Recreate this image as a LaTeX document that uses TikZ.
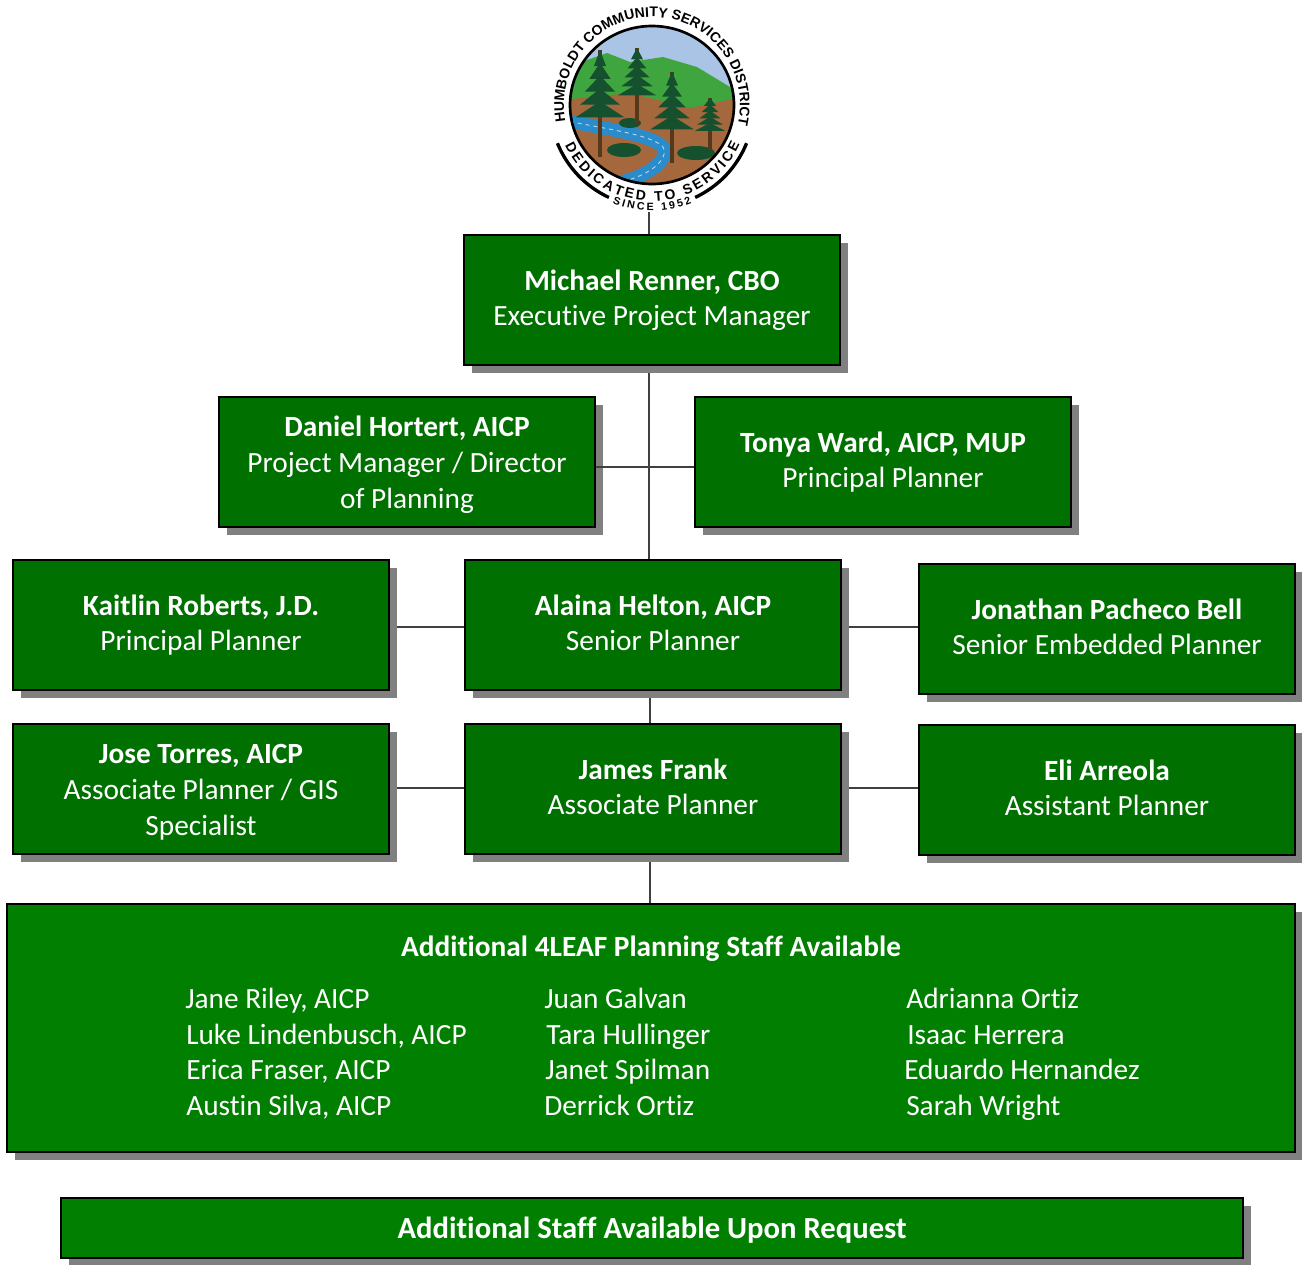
\documentclass[tikz,border=0pt]{standalone}
\usepackage{fontspec}
\setmainfont{Carlito}[Ligatures=NoCommon]
\setsansfont{Liberation Sans}
\usetikzlibrary{backgrounds,shadows,decorations.text}
\definecolor{staffgreen}{HTML}{007000}
\definecolor{poolgreen}{HTML}{007F00}
\definecolor{hillgreen}{HTML}{3FA63F}
\definecolor{soilbrown}{HTML}{A4683C}
\definecolor{firgreen}{HTML}{15502F}
\definecolor{skyblue}{HTML}{A9C4E4}
\definecolor{riverblue}{HTML}{2B8CCB}
\tikzset{
	staffbox/.style={draw=black, line width=1.6pt, fill=staffgreen, text=white, align=center, inner sep=0pt,
		minimum width=282pt, minimum height=97.5pt, font=\fontsize{22}{26.7}\selectfont,
		drop shadow={shadow xshift=6pt, shadow yshift=-6pt, fill=gray, opacity=1},
		text height=38.5pt, text depth=0pt},
	threeline/.style={text height=69pt, text depth=0pt},
	poolbox/.style={staffbox, fill=poolgreen},
	poolname/.style={text=white, anchor=base west, inner sep=0pt, font=\fontsize{22}{26.7}\selectfont},
	link/.style={draw=black!75, line width=1pt},
}
\newcommand{\firtree}[3]{% x, top, bottom
	\draw[line width=2.5pt, draw=black!55!brown] (#1,#2) -- (#1,#3);
	\foreach \f in {0,0.12,0.24,0.36,0.48}{
		\fill[firgreen] (#1,{#2+(#3-#2)*\f}) -- ({#1+6+(#2-#3)*\f*0.36},{#2+(#3-#2)*(\f+0.15)})
			-- ({#1-6-(#2-#3)*\f*0.36},{#2+(#3-#2)*(\f+0.15)}) -- cycle;
	}
}
\begin{document}
\begin{tikzpicture}[x=0.75pt, y=-0.75pt]
	\useasboundingbox (0,0) rectangle (1302,1264);
	% seal
	\begin{scope}[shift={(652,105)}, x=0.75pt, y=0.75pt]
		\begin{scope}
			\clip (0,0) ellipse[x radius=82, y radius=79];
			\fill[skyblue] (-90,-90) rectangle (90,90);
			\fill[hillgreen] (-90,30) -- (-65,45) -- (-45,52) -- (-22,43) -- (11,48) -- (45,38) -- (78,18) -- (95,0) -- (95,-30) -- (-90,-30) -- cycle;
			\fill[soilbrown] (-90,5) -- (-22,12) -- (38,-3) -- (90,8) -- (90,-90) -- (-90,-90) -- cycle;
			\draw[riverblue, line width=10pt] (-90,-15) .. controls (-40,-25) and (0,-30) .. (11,-42) .. controls (18,-55) and (-5,-72) .. (-35,-78);
			\draw[riverblue!35, line width=0.7pt, dashed] (-90,-15) .. controls (-40,-25) and (0,-30) .. (11,-42) .. controls (18,-55) and (-5,-72) .. (-35,-78);
			\fill[firgreen] (-28,-45) ellipse[x radius=17, y radius=7];
			\fill[firgreen] (44,-48) ellipse[x radius=19, y radius=7];
			\fill[firgreen] (-22,-18) ellipse[x radius=11, y radius=5];
			\firtree{-52}{55}{-52}
			\firtree{-15}{57}{-18}
			\firtree{20}{33}{-58}
			\firtree{58}{7}{-45}
		\end{scope}
		\draw[line width=2pt] (0,0) ellipse[x radius=82, y radius=79];
		\draw[line width=2.5pt] (202:102) arc[start angle=202, end angle=245, radius=102];
		\draw[line width=2.5pt] (295:102) arc[start angle=295, end angle=338, radius=102];
		\path[decorate, decoration={text along path, text align={fit to path},
			text={|\sffamily\bfseries\fontsize{10.5}{11}\selectfont|HUMBOLDT COMMUNITY SERVICES DISTRICT}}]
			(191:88) arc[start angle=191, end angle=-11, radius=88];
		\path[decorate, decoration={text along path, text align={fit to path},
			text={|\sffamily\bfseries\fontsize{10.5}{11}\selectfont|DEDICATED TO SERVICE}}]
			(205:96) arc[start angle=205, end angle=336, radius=96];
		\path[decorate, decoration={text along path, text align={fit to path},
			text={|\sffamily\bfseries\fontsize{8}{9}\selectfont|SINCE 1952}}]
			(248:106) arc[start angle=248, end angle=292, radius=106];
	\end{scope}
	% staff
	\node[staffbox] (renner) at (652,300) {\textbf{Michael Renner, CBO}\\Executive Project Manager};
	\node[staffbox, threeline] (hortert) at (407,462) {\textbf{Daniel Hortert, AICP}\\Project Manager / Director\\of Planning};
	\node[staffbox] (ward) at (883,462) {\textbf{Tonya Ward, AICP, MUP}\\Principal Planner};
	\node[staffbox] (roberts) at (201,625) {\textbf{Kaitlin Roberts, J.D.}\\Principal Planner};
	\node[staffbox] (helton) at (653,625) {\textbf{Alaina Helton, AICP}\\Senior Planner};
	\node[staffbox] (bell) at (1107,629) {\textbf{Jonathan Pacheco Bell}\\Senior Embedded Planner};
	\node[staffbox, threeline] (torres) at (201,789) {\textbf{Jose Torres, AICP}\\Associate Planner / GIS\\Specialist};
	\node[staffbox] (frank) at (653,789) {\textbf{James Frank}\\Associate Planner};
	\node[staffbox] (arreola) at (1107,790) {\textbf{Eli Arreola}\\Assistant Planner};
	\node[poolbox, minimum width=966pt, minimum height=186pt] (pool) at (651,1028) {};
	\node[poolbox, text height=16pt, text depth=0pt, minimum width=886.5pt, minimum height=45pt, font=\fontsize{23}{27}\selectfont] (request) at (652,1228) {\textbf{Additional Staff Available Upon Request}};
	% pool names
	\node[text=white, inner sep=0pt, font=\fontsize{22}{26.7}\selectfont\bfseries] (pooltitle) at (651,949) {Additional 4LEAF Planning Staff Available};
	\node[poolname] (riley) at (185,1008.5) {Jane Riley, AICP};
	\node[poolname] (lindenbusch) at (186,1044.5) {Luke Lindenbusch, AICP};
	\node[poolname] (fraser) at (186,1079.5) {Erica Fraser, AICP};
	\node[poolname] (silva) at (186,1115.5) {Austin Silva, AICP};
	\node[poolname] (galvan) at (544,1008.5) {Juan Galvan};
	\node[poolname] (hullinger) at (546,1044.5) {Tara Hullinger};
	\node[poolname] (spilman) at (545,1079.5) {Janet Spilman};
	\node[poolname] (derrick) at (544,1115.5) {Derrick Ortiz};
	\node[poolname] (adrianna) at (906,1008.5) {Adrianna Ortiz};
	\node[poolname] (herrera) at (907,1044.5) {Isaac Herrera};
	\node[poolname] (hernandez) at (904,1079.5) {Eduardo Hernandez};
	\node[poolname] (wright) at (906,1115.5) {Sarah Wright};
	% links
	\coordinate (sealfoot) at (649,212);
	\coordinate (trunk) at (649,467);
	\coordinate (rowa) at (650,627);
	\coordinate (rowb) at (650,788);
	\draw[link] (hortert.east |- trunk) -- (ward.west |- trunk);
	\begin{pgfonlayer}{background}
		\draw[link] (sealfoot) -- (renner.north -| sealfoot);
		\draw[link] (renner.south -| trunk) -- (helton.north -| trunk);
		\draw[link] (roberts.east |- rowa) -- (helton.west |- rowa);
		\draw[link] (helton.east |- rowa) -- (bell.west |- rowa);
		\draw[link] (helton.south -| rowa) -- (frank.north -| rowa);
		\draw[link] (torres.east |- rowb) -- (frank.west |- rowb);
		\draw[link] (frank.east |- rowb) -- (arreola.west |- rowb);
		\draw[link] (frank.south -| rowb) -- (pool.north -| rowb);
	\end{pgfonlayer}
\end{tikzpicture}
\end{document}
